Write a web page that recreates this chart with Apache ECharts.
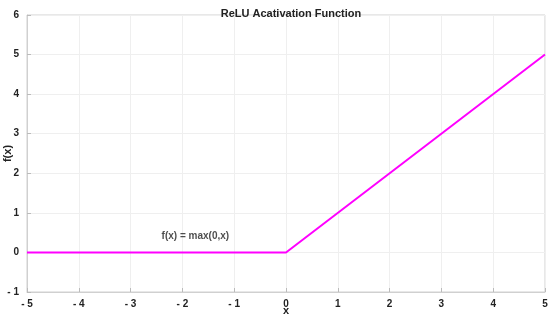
<!DOCTYPE html>
<html>
<head>
<meta charset="utf-8">
<script src="https://cdn.jsdelivr.net/npm/echarts@6/dist/echarts.min.js"></script>
<style>
  html, body { margin: 0; padding: 0; background: #fff; }
  #main { width: 550px; height: 319px; }
</style>
</head>
<body>
<div id="main"></div>
<script>
// ReLU 曲线的关键点
const xs = [-5, 0, 5];
const ys = [0, 0, 5];
// 公式标注位置
const noteX = -1.75;
const noteY = 0.42;
const noteText = 'f(x) = max(0,x)';

const font = 'Liberation Sans, Arial, sans-serif';
const boxColor = '#d0d0d0';

let chart = echarts.init(document.getElementById('main'));

// 负号后带空格，例如 "- 4"
const fmtTick = v => v < 0 ? '- ' + Math.abs(v) : String(v);

let axisCommon = {
    axisLine: {show: true, onZero: false, lineStyle: {color: boxColor, width: 1}},
    axisTick: {show: true, inside: true, length: 4, lineStyle: {color: '#bbb'}},
    splitLine: {show: true, lineStyle: {color: '#efefef', width: 1}},
    axisLabel: {color: '#222', fontSize: 10, fontWeight: 'bold', fontFamily: font, formatter: fmtTick},
    nameTextStyle: {color: '#222', fontSize: 11, fontWeight: 'bold', fontFamily: font},
    nameMoveOverlap: false
};

let option = {
    animation: false,
    backgroundColor: '#fff',
    title: {
        text: 'ReLU Acativation Function',
        left: 286, top: 3, textAlign: 'center',
        textStyle: {fontSize: 11, fontWeight: 'bold', color: '#222', fontFamily: font}
    },
    grid: {
        left: 27, right: 5, top: 15, bottom: 27,
        containLabel: false, outerBoundsMode: 'none',
        show: true, borderColor: boxColor, borderWidth: 1
    },
    xAxis: Object.assign({}, axisCommon, {
        type: 'value', min: -5, max: 5, interval: 1,
        name: 'x', nameLocation: 'middle', nameGap: 13,
        axisLabel: Object.assign({}, axisCommon.axisLabel, {margin: 7})
    }),
    yAxis: Object.assign({}, axisCommon, {
        type: 'value', min: -1, max: 6, interval: 1,
        name: 'f(x)', nameLocation: 'middle', nameGap: 14, nameRotate: 90,
        axisLabel: Object.assign({}, axisCommon.axisLabel, {margin: 8})
    }),
    series: [
        {
            type: 'line',
            data: xs.map((x, i) => [x, ys[i]]),
            symbol: 'none',
            lineStyle: {color: '#ff00ff', width: 2},
            z: 5
        },
        {
            type: 'scatter',
            data: [[noteX, noteY]],
            symbolSize: 0,
            silent: true,
            label: {
                show: true, position: 'inside', formatter: noteText,
                color: '#222', fontSize: 10, fontWeight: 'bold', fontFamily: font
            }
        }
    ]
};
chart.setOption(option);
</script>
</body>
</html>
